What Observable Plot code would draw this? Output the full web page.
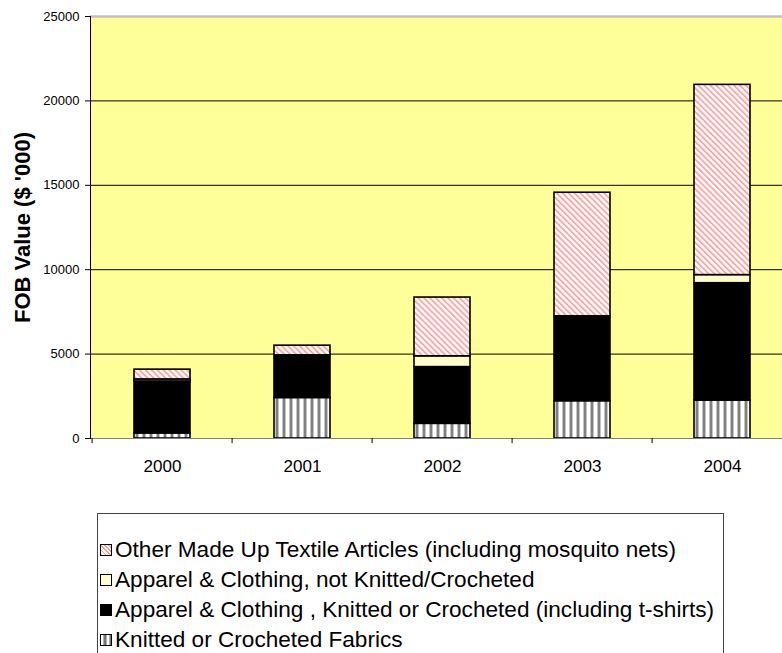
<!DOCTYPE html>
<html>
<head>
<meta charset="utf-8">
<script src="https://cdn.jsdelivr.net/npm/d3@7"></script>
<script src="https://cdn.jsdelivr.net/npm/@observablehq/plot@0.6"></script>
<style>
  html, body { margin: 0; padding: 0; background: white; font-family: "Liberation Sans", Arial, sans-serif; }
  #chart svg { display: block; }
  #legend { position: absolute; left: 97px; top: 513px; width: 627px; height: 200px; border: 1px solid #444; box-sizing: border-box; padding-top: 21px; padding-left: 2px; }
  .row { height: 30px; line-height: 30px; font-size: 22.6px; color: #000; display: flex; align-items: center; white-space: nowrap; }
  .sw { width: 10px; height: 10px; border: 1.5px solid #000; margin-right: 3px; flex: none; }
</style>
</head>
<body>
<div id="chart"></div>
<div id="legend"></div>
<script>
const years = ["2000", "2001", "2002", "2003", "2004"];
const series = [
  "Knitted or Crocheted Fabrics",
  "Apparel & Clothing , Knitted or Crocheted (including t-shirts)",
  "Apparel & Clothing, not Knitted/Crocheted",
  "Other Made Up Textile Articles (including mosquito nets)"
];
const fabrics = [300, 2400, 870, 2210, 2250];
const knitted = [3080, 2530, 3360, 5030, 6950];
const notKnitted = [120, 0, 640, 0, 480];
const otherArticles = [580, 570, 3480, 7320, 11270];
const yTicks = [0, 5000, 10000, 15000, 20000, 25000];
const yLabel = "FOB Value ($ '000)";

const seriesValues = [fabrics, knitted, notKnitted, otherArticles];
const fills = ["url(#fabricStripes)", "#000000", "#ffffcc", "url(#pinkHatch)"];
const legendBg = [
  "repeating-linear-gradient(90deg, #fff 0 2px, #aaa 2px 3px, #777 3px 5px, #aaa 5px 6px)",
  "#000000",
  "#ffffcc",
  "repeating-linear-gradient(45deg, #ff9999 0 1.2px, #fff 1.2px 3px)"
];

const data = years.flatMap((year, i) =>
  series.map((s, j) => ({year, series: s, value: seriesValues[j][i]}))
).filter(d => d.value > 0);

const W = 782;
const marginLeft = 90;
const step = 140.8;

const chart = Plot.plot({
  width: W,
  height: 490,
  marginLeft,
  marginRight: 0,
  marginTop: 16,
  marginBottom: 52,
  style: {fontFamily: "'Liberation Sans', Arial, sans-serif", background: "white", color: "black"},
  x: {type: "band", domain: years, range: [marginLeft, marginLeft + step * years.length], paddingInner: 0.6, paddingOuter: 0.3, label: null},
  y: {domain: [0, 25000], label: null},
  color: {type: "ordinal", domain: series, range: fills},
  marks: [
    Plot.frame({fill: "#ffff99", stroke: null}),
    Plot.ruleY(yTicks.slice(1, -1), {stroke: "#000", strokeWidth: 1}),
    Plot.ruleY([yTicks[yTicks.length - 1]], {stroke: "#c0c0c0", strokeWidth: 2.5}),
    Plot.barY(data, {x: "year", y: "value", fill: "series", order: series, stroke: "#000", strokeWidth: 1.6}),
    Plot.ruleY([0], {stroke: "#808080", strokeWidth: 1.2}),
    Plot.frame({anchor: "left", stroke: "#000", strokeWidth: 1}),
    Plot.ruleX(years, {x: d => d, dx: -step / 2, y1: 0, y2: -300, stroke: "#000", strokeWidth: 1}),
    Plot.axisY({ticks: yTicks, tickSize: 5, tickPadding: 6, fontSize: 13, tickFormat: d3.format("d"), label: null}),
    Plot.axisX({tickSize: 0, tickPadding: 21, fontSize: 17, label: null}),
    Plot.text([yLabel], {frameAnchor: "left", dx: -68, rotate: -90, textAnchor: "middle", fontSize: 22, fontWeight: "bold", text: d => d})
  ]
});

const defs = d3.select(chart).insert("defs", ":first-child");
const hatch = defs.append("pattern").attr("id", "pinkHatch").attr("patternUnits", "userSpaceOnUse")
  .attr("width", 4.2).attr("height", 4.2).attr("patternTransform", "rotate(-45)");
hatch.append("rect").attr("width", 4.2).attr("height", 4.2).attr("fill", "#ffffff");
hatch.append("rect").attr("width", 1.8).attr("height", 4.2).attr("fill", "#ffa3a3");
const stripes = defs.append("pattern").attr("id", "fabricStripes").attr("patternUnits", "userSpaceOnUse")
  .attr("width", 7).attr("height", 7);
[["#ffffff", 0, 2], ["#c4c4c4", 2, 1], ["#808080", 3, 2], ["#c4c4c4", 5, 1], ["#ffffff", 6, 1]].forEach(([c, x, w]) =>
  stripes.append("rect").attr("x", x).attr("width", w).attr("height", 7).attr("fill", c));

document.getElementById("chart").appendChild(chart);

const legend = document.getElementById("legend");
[3, 2, 1, 0].forEach(j => {
  const row = document.createElement("div");
  row.className = "row";
  const sw = document.createElement("span");
  sw.className = "sw";
  sw.style.background = legendBg[j];
  const t = document.createElement("span");
  t.textContent = series[j];
  row.appendChild(sw);
  row.appendChild(t);
  legend.appendChild(row);
});
</script>
</body>
</html>
